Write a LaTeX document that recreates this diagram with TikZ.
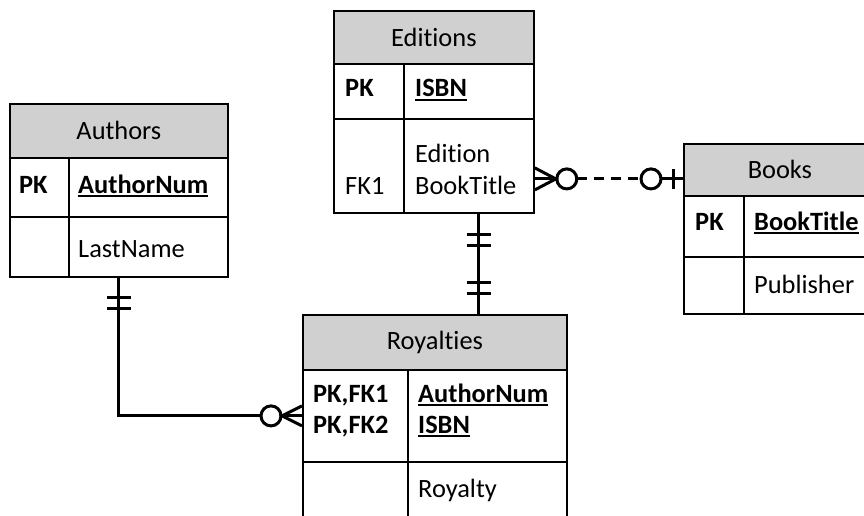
\documentclass[tikz,border=0pt]{standalone}
\usepackage{fontspec}
\setmainfont{Carlito}[Ligatures=CommonOff]
\usetikzlibrary{calc}

\definecolor{hdrgray}{RGB}{208,208,208}
\newcommand{\keyname}[1]{\setbox0\hbox{\bfseries #1}\rlap{\rule[-4pt]{\wd0}{1.9pt}}\box0}

\tikzset{
  hdr/.style={draw, line width=1.8pt, fill=hdrgray, inner sep=0pt, anchor=north west},
  cell/.style={draw, line width=1.8pt, inner sep=0pt, anchor=north west},
  txt/.style={anchor=base west, inner sep=0pt},
  conn/.style={line width=3pt},
}

\begin{document}
\begin{tikzpicture}[x=1pt,y=-1pt, every node/.style={font=\fontsize{26.4}{31}\selectfont}]
\useasboundingbox (0,0) rectangle (864,516);
\clip (0,0) rectangle (864,516);

% Authors
\node[hdr, minimum width=218pt, minimum height=54pt] (authors) at (9,103) {Authors};
\node[cell, minimum width=59pt, minimum height=59pt] (authorsK1) at (9,157) {};
\node[cell, minimum width=159pt, minimum height=59pt] (authorsA1) at (68,157) {};
\node[cell, minimum width=59pt, minimum height=60pt] (authorsK2) at (9,216) {};
\node[cell, minimum width=159pt, minimum height=60pt] (authorsA2) at (68,216) {};
\node[txt] (aPK) at (19,193) {\bfseries PK};
\node[txt] (aNum) at (78,193) {\keyname{AuthorNum}};
\node[txt] (aLast) at (78,257) {LastName};

% Editions
\node[hdr, minimum width=200pt, minimum height=53pt] (editions) at (333,10) {Editions};
\node[cell, minimum width=70pt, minimum height=55pt] (editionsK1) at (333,63) {};
\node[cell, minimum width=130pt, minimum height=55pt] (editionsA1) at (403,63) {};
\node[cell, minimum width=70pt, minimum height=94pt] (editionsK2) at (333,118) {};
\node[cell, minimum width=130pt, minimum height=94pt] (editionsA2) at (403,118) {};
\node[txt] (ePK) at (345,97) {\bfseries PK};
\node[txt] (eIsbn) at (415,97) {\keyname{ISBN}};
\node[txt] (eEd) at (415,162) {Edition};
\node[txt] (eTitle) at (415,194) {BookTitle};
\node[txt] (eFK) at (345,194) {FK1};

% Books
\node[hdr, minimum width=192pt, minimum height=52pt] (books) at (683,143) {Books};
\node[cell, minimum width=60pt, minimum height=61pt] (booksK1) at (683,195) {};
\node[cell, minimum width=132pt, minimum height=61pt] (booksA1) at (743,195) {};
\node[cell, minimum width=60pt, minimum height=57pt] (booksK2) at (683,256) {};
\node[cell, minimum width=132pt, minimum height=57pt] (booksA2) at (743,256) {};
\node[txt] (bPK) at (695,230) {\bfseries PK};
\node[txt] (bTitle) at (754,230) {\keyname{BookTitle}};
\node[txt] (bPub) at (754,293) {Publisher};

% Royalties
\node[hdr, minimum width=264pt, minimum height=55pt] (royalties) at (302,314) {Royalties};
\node[cell, minimum width=105pt, minimum height=92pt] (royaltiesK1) at (302,369) {};
\node[cell, minimum width=159pt, minimum height=92pt] (royaltiesA1) at (407,369) {};
\node[cell, minimum width=105pt, minimum height=60pt] (royaltiesK2) at (302,461) {};
\node[cell, minimum width=159pt, minimum height=60pt] (royaltiesA2) at (407,461) {};
\node[txt] (rFK1) at (313,402) {\bfseries PK,FK1};
\node[txt] (rFK2) at (313,433) {\bfseries PK,FK2};
\node[txt] (rNum) at (418,402) {\keyname{AuthorNum}};
\node[txt] (rIsbn) at (418,433) {\keyname{ISBN}};
\node[txt] (rRoy) at (418,497) {Royalty};

% Authors -- Royalties
\coordinate (arTop) at (authors.south |- authorsK2.south);
\coordinate (arEnd) at (royaltiesK1.west);
\draw[conn] (arTop) |- ([xshift=-41pt]arEnd);
\draw[conn] ([xshift=-12pt,yshift=-20pt]arTop) -- ++(24pt,0pt);
\draw[conn] ([xshift=-12pt,yshift=-31pt]arTop) -- ++(24pt,0pt);
\draw[conn] ([xshift=-31pt]arEnd) circle (10pt);
\draw[conn] ([yshift=10pt]arEnd) -- ([xshift=-20pt]arEnd) -- ([yshift=-10pt]arEnd);
\draw[conn] ([xshift=-20pt]arEnd) -- (arEnd);

% Editions -- Royalties
\coordinate (erTop) at ([xshift=45pt]editions.south |- editionsA2.south);
\coordinate (erEnd) at (erTop |- royalties.north);
\draw[conn] (erTop) -- (erEnd);
\draw[conn] ([xshift=-12pt,yshift=-21pt]erTop) -- ++(24pt,0pt);
\draw[conn] ([xshift=-12pt,yshift=-32pt]erTop) -- ++(24pt,0pt);
\draw[conn] ([xshift=-12pt,yshift=21pt]erEnd) -- ++(24pt,0pt);
\draw[conn] ([xshift=-12pt,yshift=32pt]erEnd) -- ++(24pt,0pt);

% Editions -- Books
\coordinate (ebL) at ([yshift=-13pt]editionsA2.east);
\coordinate (ebR) at (ebL -| books.west);
\draw[conn] ([yshift=11pt]ebL) -- ([xshift=21pt]ebL) -- ([yshift=-11pt]ebL);
\draw[conn] (ebL) -- ([xshift=21pt]ebL);
\draw[conn] ([xshift=32pt]ebL) circle (10pt);
\draw[conn, dash pattern=on 10pt off 7pt] ([xshift=42pt]ebL) -- ([xshift=-42pt]ebR);
\draw[conn] ([xshift=-32pt]ebR) circle (10pt);
\draw[conn] ([xshift=-22pt]ebR) -- (ebR);
\draw[conn] ([xshift=-10pt,yshift=10pt]ebR) -- ([xshift=-10pt,yshift=-10pt]ebR);

\end{tikzpicture}
\end{document}
